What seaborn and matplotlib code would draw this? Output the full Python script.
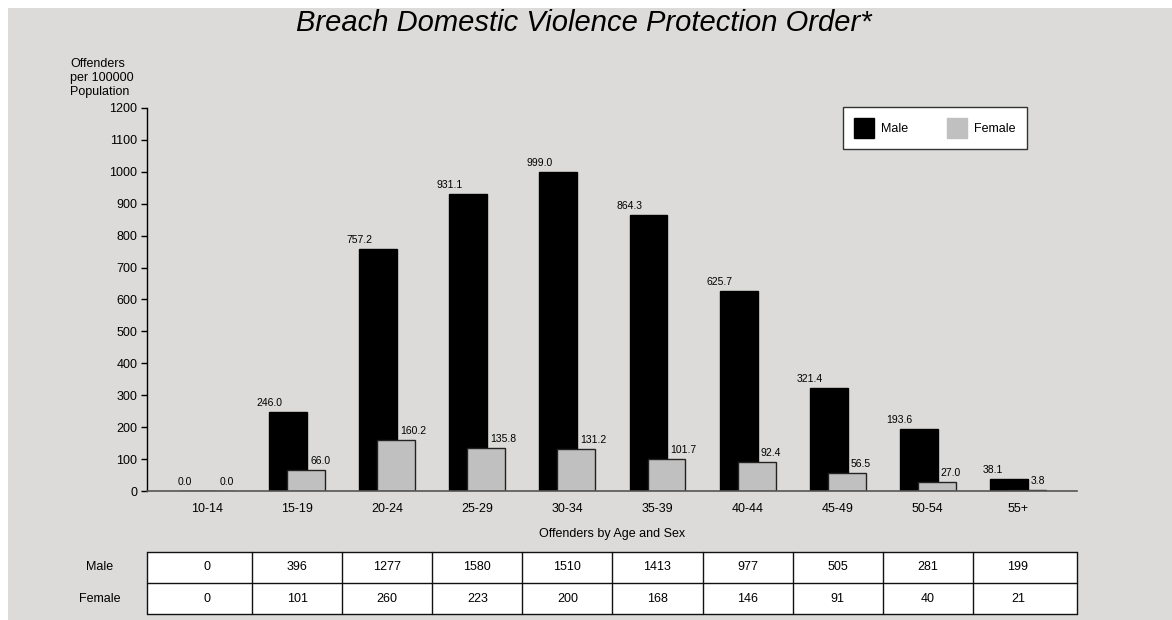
import numpy as np
import matplotlib
matplotlib.use("Agg")
import matplotlib.pyplot as plt
import matplotlib.transforms as mtransforms
from matplotlib.patches import Patch, Rectangle
import seaborn as sns

# Offender rates per 100000 population, by age group and sex
age_groups = ["10-14", "15-19", "20-24", "25-29", "30-34",
              "35-39", "40-44", "45-49", "50-54", "55+"]
male_rate = [0.0, 246.0, 757.2, 931.1, 999.0, 864.3, 625.7, 321.4, 193.6, 38.1]
female_rate = [0.0, 66.0, 160.2, 135.8, 131.2, 101.7, 92.4, 56.5, 27.0, 3.8]

# Offender counts shown in the table under the chart
male_count = [0, 396, 1277, 1580, 1510, 1413, 977, 505, 281, 199]
female_count = [0, 101, 260, 223, 200, 168, 146, 91, 40, 21]

series_names = ["Male", "Female"]
y_ticks = list(range(0, 1201, 100))

BG = "#dcdbda"
MALE_C = "#000000"
FEMALE_C = "#c0c0c0"
INK = "#000000"

sns.set_style("white")
plt.rcParams["font.family"] = ["Liberation Sans", "DejaVu Sans"]
plt.rcParams.update({"text.color": INK, "axes.labelcolor": INK,
                     "xtick.color": INK, "ytick.color": INK})

W, H, DPI = 1172, 620, 100
fig = plt.figure(figsize=(W / DPI, H / DPI), dpi=DPI, facecolor="white")
fig.patches.append(Rectangle((8 / W, 0), 1, 1 - 8 / H, transform=fig.transFigure,
                             facecolor=BG, edgecolor="none", zorder=-10))

ax = fig.add_axes([147 / W, (H - 491) / H, (1077 - 147) / W, (491 - 108) / H])
ax.set_facecolor(BG)
ax.patch.set_alpha(0)

pos = np.arange(len(age_groups))
shift = 0.1
bar_w = 0.42

sns.barplot(x=pos - shift, y=male_rate, native_scale=True, width=bar_w,
            color=MALE_C, saturation=1, edgecolor=MALE_C, linewidth=1,
            ax=ax, zorder=2)
sns.barplot(x=pos + shift, y=female_rate, native_scale=True, width=bar_w,
            color=FEMALE_C, saturation=1, edgecolor="#222222", linewidth=1,
            ax=ax, zorder=3)

# Value labels: male to the upper left, female to the upper right
for i in range(len(age_groups)):
    ax.annotate(f"{male_rate[i]:.1f}", (pos[i] - shift, male_rate[i]),
                xytext=(-6, 4), textcoords="offset pixels",
                ha="right", va="bottom", fontsize=7.5, zorder=5)
    ax.annotate(f"{female_rate[i]:.1f}", (pos[i] + shift, female_rate[i]),
                xytext=(4, 4), textcoords="offset pixels",
                ha="left", va="bottom", fontsize=7.5, zorder=5)

ax.set_xlim(-0.666, 9.656)
ax.set_ylim(0, 1200)
ax.set_yticks(y_ticks)
ax.set_yticklabels([str(t) for t in y_ticks])
ax.set_xticks(pos)
ax.set_xticklabels(age_groups)
ax.tick_params(axis="y", direction="out", length=4, width=1, color=INK,
               labelsize=9, pad=3, left=True)
ax.tick_params(axis="x", length=0, labelsize=9, pad=9)
ax.set_xlabel("Offenders by Age and Sex", fontsize=9, labelpad=9)
ax.set_ylabel("")

for side in ("top", "right"):
    ax.spines[side].set_visible(False)
ax.spines["left"].set_color(INK)
ax.spines["left"].set_linewidth(1)
ax.spines["bottom"].set_color("#555555")
ax.spines["bottom"].set_linewidth(1.2)
ax.spines["bottom"].set_zorder(4)

fig.text(70 / W, 1 - 58 / H, "Offenders\nper 100000\nPopulation",
         ha="left", va="top", fontsize=9, linespacing=1.25)

fig.text(0.498, 1 - 23 / H, "Breach Domestic Violence Protection Order*",
         ha="center", va="center", fontsize=21, style="italic")

# Legend
handles = [Patch(facecolor=MALE_C, edgecolor=MALE_C),
           Patch(facecolor=FEMALE_C, edgecolor=FEMALE_C)]
leg = fig.legend(handles, series_names, loc="upper left",
                 bbox_to_anchor=(843 / W, 1 - 107 / H), bbox_transform=fig.transFigure,
                 ncol=2, fontsize=9, frameon=True, fancybox=False,
                 handlelength=1.6, handleheight=2.0, handletextpad=0.55,
                 columnspacing=3.1, borderpad=0.9, borderaxespad=0)
leg.get_frame().set_facecolor("white")
leg.get_frame().set_edgecolor("#333333")
leg.get_frame().set_linewidth(1)
leg.get_frame().set_alpha(1)

# Data table below the chart: x in data units, y in figure fraction
trans = mtransforms.blended_transform_factory(ax.transData, fig.transFigure)
x0, x1 = ax.get_xlim()
y_top, y_mid, y_bot = 1 - 552 / H, 1 - 583 / H, 1 - 614 / H
ax.add_patch(Rectangle((x0, y_bot), x1 - x0, y_top - y_bot, transform=trans,
                       facecolor="white", edgecolor="none", clip_on=False, zorder=1))
line_kw = dict(color="#111111", linewidth=1, transform=trans, clip_on=False, zorder=4)
for yy in (y_top, y_mid, y_bot):
    ax.plot([x0, x1], [yy, yy], **line_kw)
for xx in [x0] + list(pos[:-1] + 0.5) + [x1]:
    ax.plot([xx, xx], [y_bot, y_top], **line_kw)

row_y = [(y_top + y_mid) / 2, (y_mid + y_bot) / 2]
for r, (name, counts) in enumerate(zip(series_names, [male_count, female_count])):
    fig.text(100 / W, row_y[r], name, ha="center", va="center", fontsize=9)
    for i, c in enumerate(counts):
        ax.text(pos[i], row_y[r], str(c), ha="center", va="center", fontsize=9,
                transform=trans, clip_on=False, zorder=5)

fig.savefig("out.png", dpi=DPI, facecolor=fig.get_facecolor())
